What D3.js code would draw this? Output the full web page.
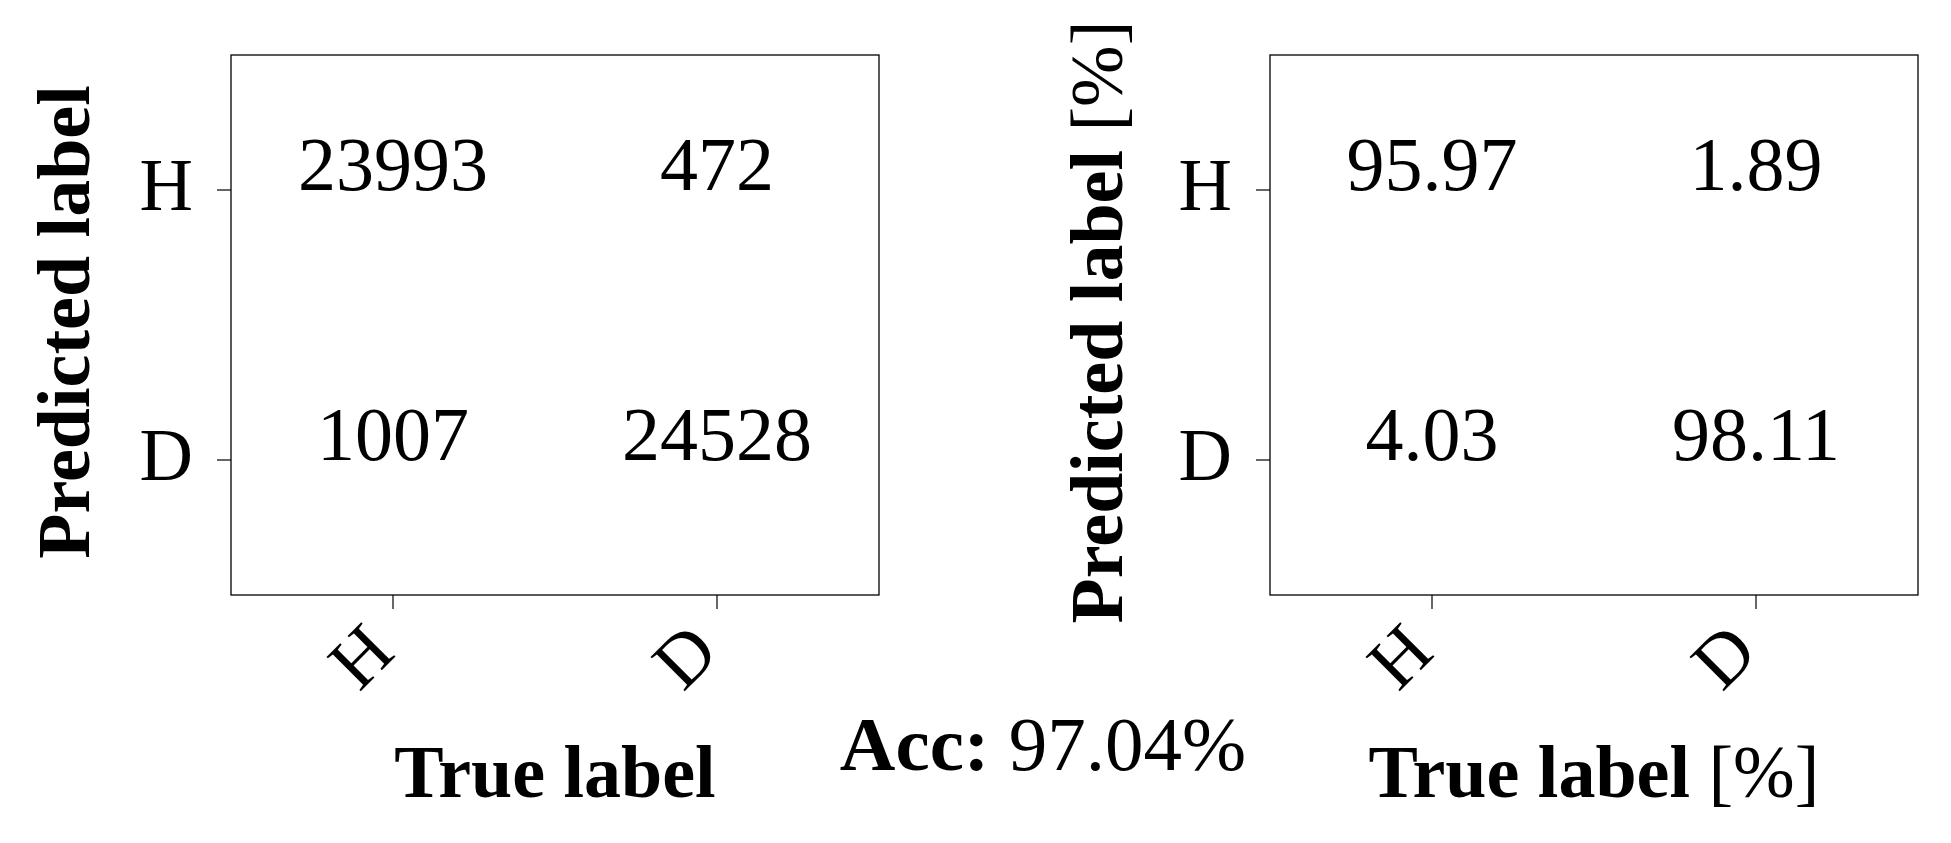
<!DOCTYPE html>
<html lang="en">
<head>
  <meta charset="UTF-8" />
  <title>Confusion matrices</title>
  <script src="https://d3js.org/d3.v7.min.js"></script>
  <style>
    body { margin: 0; background: #fff; }
    svg, svg text { font-family: "Liberation Serif", "DejaVu Serif", serif; }
    .cell-value { font-size: 76px; }
    .tick text { font-size: 74px; fill: #000; }
    .tick line { stroke: #000; stroke-width: 1.2; }
    .title { font-size: 74px; font-weight: bold; }
  </style>
</head>
<body>
<svg width="1951" height="843"></svg>
<script>
  // classes (predicted on y, true on x)
  const labels = ["H", "D"];
  // raw counts, rows = predicted, cols = true
  const counts = [[23993, 472], [1007, 24528]];
  // column normalised values as printed
  const percents = [["95.97", "1.89"], ["4.03", "98.11"]];
  const accuracy = "97.04%";

  const svg = d3.select("svg");
  const boxW = 648, boxH = 540, boxTop = 55;

  function drawMatrix(left, values, xTitle, yTitle) {
    const g = svg.append("g").attr("transform", `translate(${left},${boxTop})`);

    const x = d3.scaleBand().domain(labels).range([0, boxW]);
    const y = d3.scaleBand().domain(labels).range([0, boxH]);

    // cell values (baseline on the row centre, like the original)
    labels.forEach((pred, i) => {
      labels.forEach((tru, j) => {
        g.append("text")
          .attr("class", "cell-value")
          .attr("x", x(tru) + x.bandwidth() / 2)
          .attr("y", y(pred) + y.bandwidth() / 2)
          .attr("text-anchor", "middle")
          .text(values[i][j]);
      });
    });

    // frame
    g.append("rect")
      .attr("width", boxW).attr("height", boxH)
      .attr("fill", "none").attr("stroke", "#000").attr("stroke-width", 1.3);

    // y axis
    const ya = g.append("g").call(d3.axisLeft(y).tickSize(14).tickSizeOuter(0));
    ya.select(".domain").remove();
    ya.selectAll(".tick text")
      .attr("x", -38)
      .attr("dy", "0.27em");

    // x axis, labels turned 45 degrees
    const xa = g.append("g").attr("transform", `translate(0,${boxH})`)
      .call(d3.axisBottom(x).tickSize(14).tickSizeOuter(0));
    xa.select(".domain").remove();
    xa.selectAll(".tick text")
      .attr("y", 0).attr("dy", 0).attr("x", 0)
      .attr("text-anchor", "end")
      .attr("transform", "translate(4,60) rotate(-45)");

    // axis titles
    g.append("text")
      .attr("class", "title")
      .attr("x", boxW / 2)
      .attr("y", 742)
      .attr("text-anchor", "middle")
      .html(xTitle);

    g.append("text")
      .attr("class", "title")
      .attr("text-anchor", "middle")
      .attr("transform", `translate(${yTitle.dx},${boxH / 2 - 3}) rotate(-90)`)
      .html(yTitle.text);
  }

  drawMatrix(231, counts, "True label",
    { text: "Predicted label", dx: -142 });
  drawMatrix(1270, percents, 'True label <tspan font-weight="normal">[%]</tspan>',
    { text: 'Predicted label <tspan font-weight="normal">[%]</tspan>', dx: -148 });

  // overall accuracy
  const acc = svg.append("text")
    .attr("x", 1043)
    .attr("y", 770)
    .attr("text-anchor", "middle")
    .style("font-size", "77px");
  acc.append("tspan").attr("font-weight", "bold").text("Acc:");
  acc.append("tspan").text(" " + accuracy);
</script>
</body>
</html>
